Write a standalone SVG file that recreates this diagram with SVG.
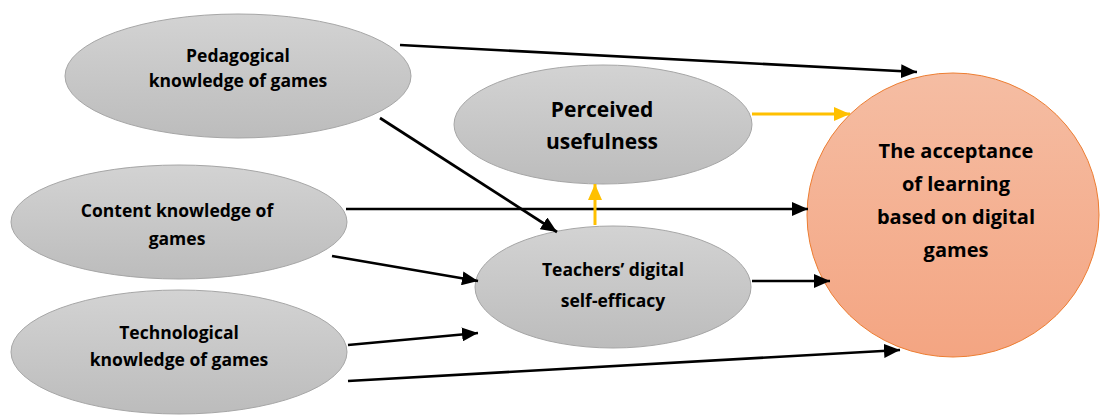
<svg xmlns="http://www.w3.org/2000/svg" width="1100" height="418" viewBox="0 0 1100 418">
  <defs>
    <linearGradient id="gray" x1="0" y1="0" x2="0" y2="1">
      <stop offset="0" stop-color="#d3d3d3"/>
      <stop offset="1" stop-color="#bcbcbc"/>
    </linearGradient>
    <linearGradient id="peach" x1="0" y1="0" x2="0" y2="1">
      <stop offset="0" stop-color="#f5bda3"/>
      <stop offset="1" stop-color="#f4a582"/>
    </linearGradient>
    <marker id="ah" markerWidth="16" markerHeight="14" refX="16" refY="7" orient="auto" markerUnits="userSpaceOnUse">
      <path d="M0,0 L16,7 L0,14 z" fill="#000"/>
    </marker>
    <marker id="ahy" markerWidth="16" markerHeight="14" refX="16" refY="7" orient="auto" markerUnits="userSpaceOnUse">
      <path d="M0,0 L16,7 L0,14 z" fill="#ffc000"/>
    </marker>
    <style>
      .node { fill: url(#gray); stroke: #a6a6a6; stroke-width: 1; }
      .goal { fill: url(#peach); stroke: #ed7d31; stroke-width: 1; }
      .lbl { font-family: "Open Sans", "Liberation Sans", sans-serif; font-weight: bold; fill: #000; text-anchor: middle; }
      .s { font-size: 17.5px; }
      .m { font-size: 20px; }
      .l { font-size: 21px; }
      .e { stroke: #000; stroke-width: 2.7; fill: none; marker-end: url(#ah); }
      .y { stroke: #ffc000; stroke-width: 3; fill: none; marker-end: url(#ahy); }
    </style>
  </defs>

  <g id="pedagogical">
    <ellipse class="node" cx="238" cy="76" rx="173" ry="62"/>
    <text class="lbl s" x="238" y="62">Pedagogical</text>
    <text class="lbl s" x="238" y="87">knowledge of games</text>
  </g>

  <g id="content">
    <ellipse class="node" cx="179" cy="222" rx="168" ry="57"/>
    <text class="lbl s" x="177" y="216.5">Content knowledge of</text>
    <text class="lbl s" x="177" y="245">games</text>
  </g>

  <g id="technological">
    <ellipse class="node" cx="179" cy="352" rx="168" ry="62"/>
    <text class="lbl s" x="179" y="339">Technological</text>
    <text class="lbl s" x="179" y="366">knowledge of games</text>
  </g>

  <g id="usefulness">
    <ellipse class="node" cx="603" cy="124.5" rx="149" ry="59.5"/>
    <text class="lbl l" x="602" y="116.5">Perceived</text>
    <text class="lbl l" x="602" y="149">usefulness</text>
  </g>

  <g id="selfefficacy">
    <ellipse class="node" cx="613" cy="287" rx="138" ry="61"/>
    <text class="lbl s" x="613" y="276">Teachers’ digital</text>
    <text class="lbl s" x="613" y="307">self-efficacy</text>
  </g>

  <g id="acceptance">
    <ellipse class="goal" cx="953" cy="215" rx="146" ry="142"/>
    <text class="lbl m" x="956" y="157.5">The acceptance</text>
    <text class="lbl m" x="956" y="190.5">of learning</text>
    <text class="lbl m" x="956" y="224">based on digital</text>
    <text class="lbl m" x="956" y="257">games</text>
  </g>

  <g id="connectors">
    <line class="e" x1="400" y1="45" x2="917" y2="72"/>
    <line class="e" x1="380" y1="118" x2="557" y2="232"/>
    <line class="e" x1="346" y1="209" x2="808" y2="209"/>
    <line class="e" x1="332" y1="256" x2="478" y2="281"/>
    <line class="e" x1="348" y1="345" x2="478" y2="333"/>
    <line class="e" x1="348" y1="381" x2="900" y2="350"/>
    <line class="e" x1="752" y1="281" x2="830" y2="281"/>
    <line class="y" x1="752" y1="114" x2="850" y2="114"/>
    <line class="y" x1="595" y1="225" x2="595" y2="184"/>
  </g>
</svg>
